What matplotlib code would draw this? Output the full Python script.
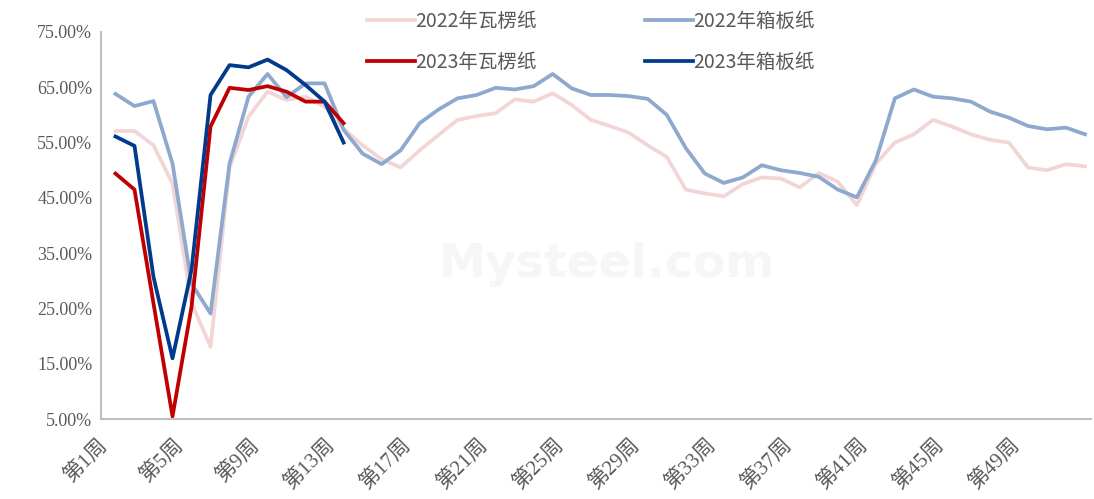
import numpy as np
import matplotlib
matplotlib.use("Agg")
import matplotlib.pyplot as plt
import matplotlib.transforms as mtransforms
from matplotlib.ticker import FuncFormatter

# 数据（从图中读取，单位 %）----------------------------------------------
weeks = np.arange(1, 53)

wl_2022 = [57.1, 57.1, 54.5, 47.6, 26.0, 18.1, 50.5, 59.7, 64.2, 62.7,
           63.3, 61.5, 57.5, 54.5, 52.0, 50.5, 53.6, 56.4, 59.1, 59.8,
           60.3, 62.8, 62.4, 63.9, 61.8, 59.1, 58.0, 56.8, 54.5, 52.4,
           46.5, 45.8, 45.3, 47.5, 48.7, 48.5, 46.9, 49.5, 47.9, 43.7,
           51.2, 55.0, 56.5, 59.1, 57.9, 56.5, 55.5, 55.0, 50.5, 50.0,
           51.1, 50.7]
xb_2022 = [63.8, 61.6, 62.5, 51.2, 29.5, 24.1, 51.2, 63.3, 67.4, 63.2,
           65.7, 65.7, 57.3, 53.0, 51.1, 53.6, 58.5, 61.0, 63.0, 63.6,
           64.9, 64.6, 65.2, 67.4, 64.8, 63.6, 63.6, 63.4, 62.9, 60.0,
           54.0, 49.4, 47.7, 48.7, 50.9, 50.0, 49.5, 48.8, 46.5, 45.1,
           51.8, 63.0, 64.6, 63.3, 63.0, 62.4, 60.6, 59.5, 58.0, 57.4,
           57.7, 56.5]
wl_2023 = [49.4, 46.5, 25.9, 5.5, 25.3, 57.9, 64.9, 64.5, 65.2, 64.2,
           62.4, 62.4, 58.5]
xb_2023 = [56.1, 54.4, 30.7, 16.0, 32.0, 63.6, 69.0, 68.6, 70.0, 68.1,
           65.4, 62.4, 55.0]

tick_weeks = list(range(1, 53, 4))
tick_labels = [f"第{w}周" for w in tick_weeks]
yticks = [5, 15, 25, 35, 45, 55, 65, 75]

# 绘图 ------------------------------------------------------------------
plt.rcParams['font.family'] = ['Liberation Serif', 'Noto Sans CJK SC', 'DejaVu Sans']
fig = plt.figure(figsize=(10.94, 4.99), dpi=100)
ax = fig.add_axes([0.092, 0.160, 0.905, 0.776])

l1, = ax.plot(weeks, wl_2022, color='#F2D6D6', lw=2.7, label='2022年瓦楞纸')
l2, = ax.plot(weeks, xb_2022, color='#8EA8CE', lw=2.7, label='2022年箱板纸')
l3, = ax.plot(weeks[:len(wl_2023)], wl_2023, color='#C00000', lw=2.7, label='2023年瓦楞纸')
l4, = ax.plot(weeks[:len(xb_2023)], xb_2023, color='#003A8C', lw=2.7, label='2023年箱板纸')

# 水印
fig.text(0.555, 0.47, 'Mysteel.com', fontsize=34, color='#F6F6F6',
         family='DejaVu Sans', fontweight='bold', ha='center', va='center', zorder=0)

ax.set_xlim(0.22, 52.3)
ax.set_ylim(5, 75)
ax.set_yticks(yticks)
ax.yaxis.set_major_formatter(FuncFormatter(lambda v, p: f"{v:.2f}%"))
ax.set_xticks(tick_weeks)
ax.set_xticklabels(tick_labels, rotation=45, ha='right', rotation_mode='anchor')
ax.tick_params(axis='both', length=0, labelsize=13, colors='#595959')
ax.tick_params(axis='x', labelsize=15, pad=12)
ax.tick_params(axis='y', pad=6)
shift = mtransforms.ScaledTranslation(-18 / 100, 0, fig.dpi_scale_trans)
for lab in ax.get_xticklabels():
    lab.set_transform(lab.get_transform() + shift)

for s in ['top', 'right']:
    ax.spines[s].set_visible(False)
for s in ['left', 'bottom']:
    ax.spines[s].set_color('#BFBFBF')
    ax.spines[s].set_linewidth(1.5)

leg = fig.legend(handles=[l1, l3, l2, l4], loc='upper left', bbox_to_anchor=(0.3196, 1.014),
                 ncol=2, frameon=False, handlelength=2.45, columnspacing=5.6,
                 labelspacing=1.05, handletextpad=0.0,
                 prop={'family': ['Noto Sans CJK SC'], 'size': 14})
for t in leg.get_texts():
    t.set_color('#595959')

fig.savefig('out.png', dpi=100)
